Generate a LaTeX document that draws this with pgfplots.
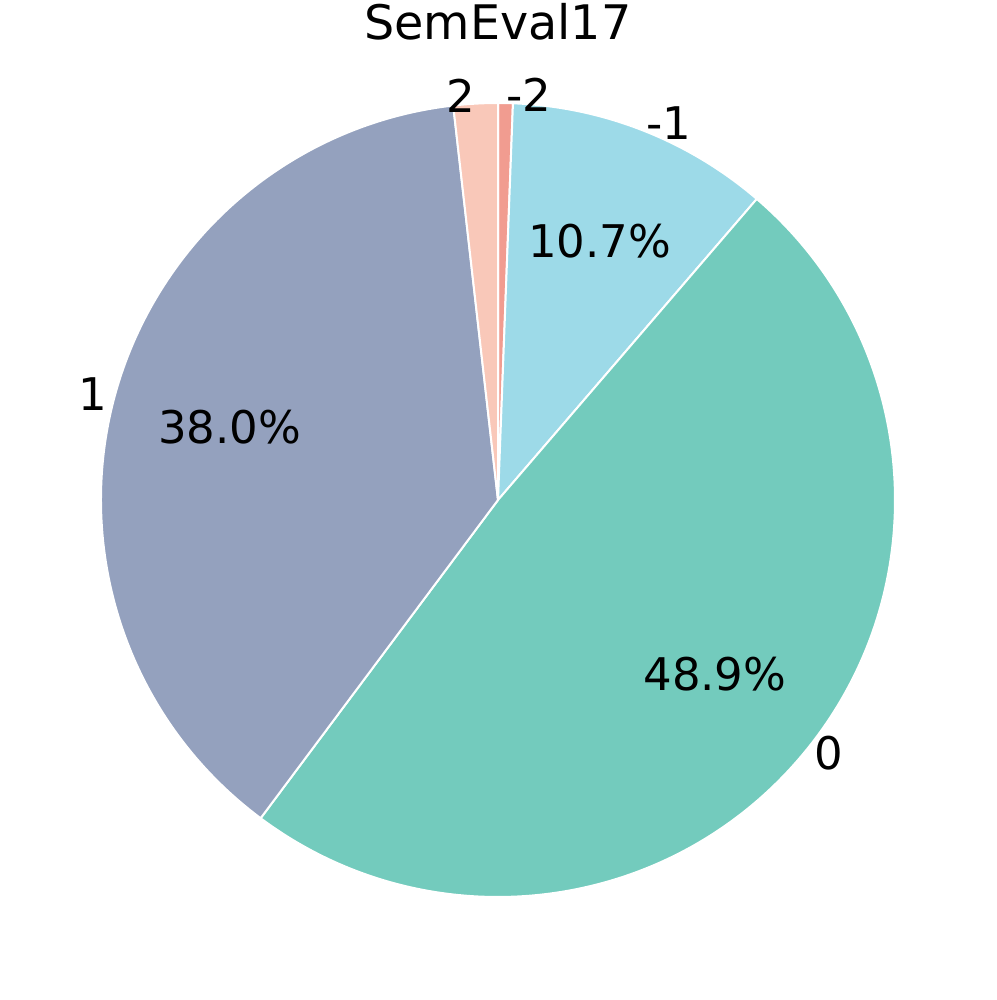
\documentclass[border=0pt]{standalone}
\usepackage{pgfplots}
\usepackage{pgfplotstable}
\pgfplotsset{compat=1.18}
\usepackage{fontspec}
\setmainfont{DejaVu Sans}

\definecolor{pc0}{RGB}{241,156,144}
\definecolor{pc1}{RGB}{157,218,232}
\definecolor{pc2}{RGB}{115,203,189}
\definecolor{pc3}{RGB}{148,161,190}
\definecolor{pc4}{RGB}{249,200,185}

% category, share in percent (clockwise from the top)
\pgfplotstableread{
lab val
-2 0.6
-1 10.7
0 48.9
1 38.0
2 1.8
}\piedata

\pgfplotstablegetrowsof{\piedata}%
\pgfmathtruncatemacro\nrows{\pgfplotsretval-1}%
\xdef\cur{90}%
\foreach \i in {0,...,\nrows}{%
  \pgfplotstablegetelem{\i}{val}\of\piedata \let\v\pgfplotsretval
  \pgfplotstablegetelem{\i}{lab}\of\piedata \let\l\pgfplotsretval
  \pgfmathsetmacro\e{\cur-3.6*\v}%
  \pgfmathsetmacro\m{(\cur+\e)/2}%
  \expandafter\xdef\csname pS\i\endcsname{\cur}%
  \expandafter\xdef\csname pE\i\endcsname{\e}%
  \expandafter\xdef\csname pM\i\endcsname{\m}%
  \expandafter\xdef\csname pV\i\endcsname{\v}%
  \expandafter\xdef\csname pL\i\endcsname{\l}%
  \pgfmathparse{cos(\m)>0 ? 1 : 0}%
  \ifnum\pgfmathresult=1 \expandafter\xdef\csname pA\i\endcsname{west}%
  \else \expandafter\xdef\csname pA\i\endcsname{east}\fi
  \pgfmathparse{\v>5 ? 1 : 0}%
  \expandafter\xdef\csname pP\i\endcsname{\pgfmathresult}%
  \xdef\cur{\e}%
}%

\begin{document}%
\begin{tikzpicture}
\useasboundingbox (-249pt,-250pt) rectangle (249pt,250pt);
\begin{axis}[
  at={(0,0)}, anchor=center,
  x=198.5pt, y=198.5pt,
  xmin=-1.25441, xmax=1.25441,
  ymin=-1.25945, ymax=1.25945,
  hide axis, clip=false,
]
\pgfplotsinvokeforeach{0,...,4}{
  \fill[pc#1, draw=white, line width=1pt, line join=round]
    (axis cs:0,0) -- (axis cs:{cos(\csname pS#1\endcsname)},{sin(\csname pS#1\endcsname)})
    arc[start angle=\csname pS#1\endcsname, end angle=\csname pE#1\endcsname, radius=198.5pt] -- cycle;
}
\pgfplotsinvokeforeach{0,...,4}{
  \node[anchor=\csname pA#1\endcsname, inner sep=0pt, font=\fontsize{22.5}{27}\selectfont]
    at (axis cs:{1.02*cos(\csname pM#1\endcsname)},{1.02*sin(\csname pM#1\endcsname)}) {\csname pL#1\endcsname};
  \ifnum\csname pP#1\endcsname=1
  \node[inner sep=0pt, font=\fontsize{22.5}{27}\selectfont]
    at (axis cs:{0.7*cos(\csname pM#1\endcsname)},{0.7*sin(\csname pM#1\endcsname)}) {\csname pV#1\endcsname\%};
  \fi
}
\node[inner sep=0pt, font=\fontsize{23.8}{28}\selectfont] at (axis cs:0,1.205) {SemEval17};
\end{axis}
\end{tikzpicture}%
\end{document}
